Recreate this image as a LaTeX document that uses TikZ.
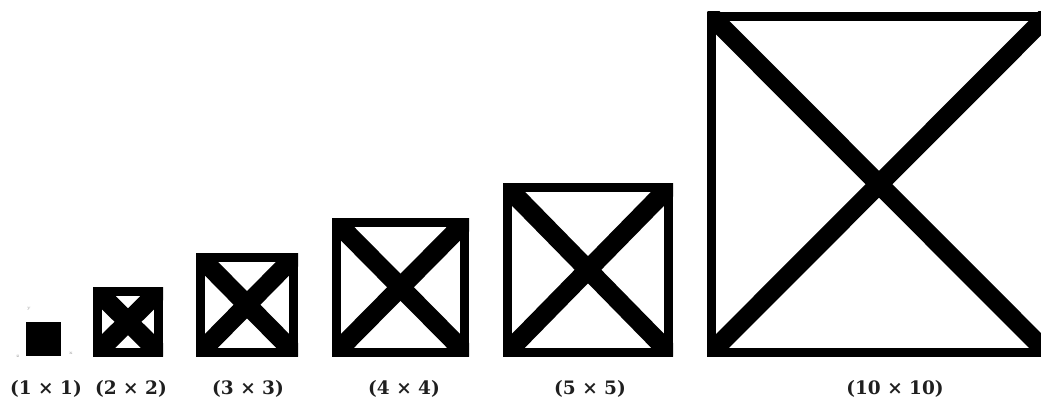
\documentclass[tikz,border=0pt]{standalone}
\usepackage{fontspec}
\newfontfamily\lblfont{DejaVu Serif}
\usetikzlibrary{calc}
\tikzset{
  border/.style={line width=9pt, draw=black},
  diag/.style={line width=19pt, draw=black},
  lbl/.style={anchor=base, inner sep=0pt, text=black!88, font=\lblfont\bfseries\fontsize{18.5}{21}\selectfont},
  axis/.style={inner sep=0pt, font=\fontsize{5}{6}\selectfont, text=black!40}
}
% outer box corners given in image pixels (y downwards)
\newcommand{\crossbox}[5]{%
  \coordinate (#1-nw) at (#2,#3);
  \coordinate (#1-se) at (#4,#5);
  \coordinate (#1-ne) at (#4,#3);
  \coordinate (#1-sw) at (#2,#5);
  \begin{scope}
    \clip (#1-nw) rectangle (#1-se);
    \draw[diag] (#1-nw) -- (#1-se);
    \draw[diag] (#1-sw) -- (#1-ne);
  \end{scope}
  \draw[border] ($(#1-nw)+(4.5,4.5)$) rectangle ($(#1-se)+(-4.5,-4.5)$);
}
\begin{document}
\begin{tikzpicture}[x=1pt,y=-1pt]
\clip (0,0) rectangle (1041,401);
\fill[white] (0,0) rectangle (1041,401);

% 1 x 1 solid block with tiny axis marks
\fill[black] (26,322) rectangle (61,356);
\node[axis] (ay) at (29,309) {y};
\node[axis] (az) at (18,356) {z};
\node[axis] (ax) at (71,353) {x};

\crossbox{b2}{93}{287}{163}{356.5}
\crossbox{b3}{196}{253}{298}{356.5}
\crossbox{b4}{332}{218}{469}{356.5}
\crossbox{b5}{503}{183}{673}{356.5}
\crossbox{b10}{707}{12}{1051}{356.5}

\node[lbl] (l1) at (46,394) {(1 × 1)};
\node[lbl] (l2) at (131,394) {(2 × 2)};
\node[lbl] (l3) at (248,394) {(3 × 3)};
\node[lbl] (l4) at (404,394) {(4 × 4)};
\node[lbl] (l5) at (590,394) {(5 × 5)};
\node[lbl] (l10) at (895,394) {(10 × 10)};
\end{tikzpicture}
\end{document}
